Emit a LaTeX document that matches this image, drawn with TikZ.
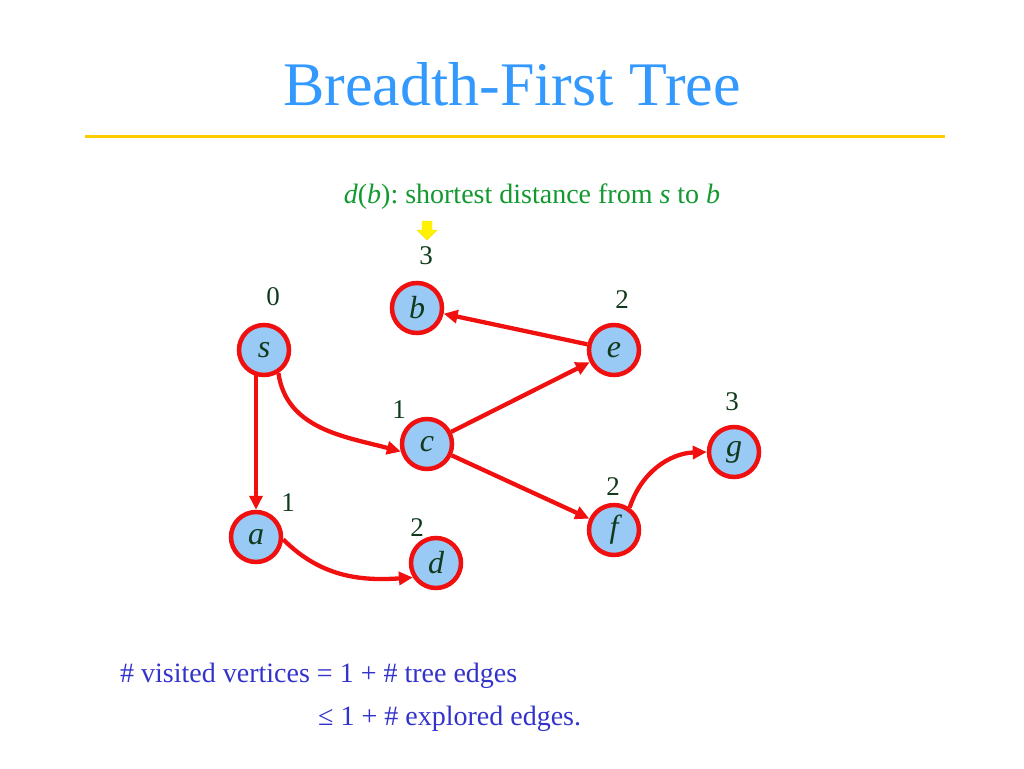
\documentclass[tikz,border=0pt]{standalone}
\usepackage{fontspec}
\setmainfont{Liberation Serif}
\usetikzlibrary{arrows.meta}
\frenchspacing
\definecolor{titleblue}{HTML}{3399FF}
\definecolor{rulegold}{HTML}{FFCC00}
\definecolor{defgreen}{HTML}{12992F}
\definecolor{nodefill}{HTML}{99C9F5}
\definecolor{edgered}{HTML}{F01010}
\definecolor{labdark}{HTML}{113A1C}
\definecolor{notblue}{HTML}{3333CC}
\tikzset{
  vert/.style={circle, draw=edgered, fill=nodefill, line width=4.5pt, minimum size=50pt, inner sep=0pt, font=\fontsize{32}{32}\selectfont\itshape, text=labdark},
  dist/.style={font=\fontsize{27}{27}\selectfont, text=labdark, inner sep=0pt},
  tedge/.style={draw=edgered, line width=4.3pt, -{Triangle[length=14pt,width=13pt]}},
  bigtext/.style={font=\fontsize{28}{28}\selectfont, inner sep=0pt},
}
\begin{document}
\begin{tikzpicture}[x=1pt,y=-1pt]
\useasboundingbox (0,0) rectangle (1024,768);
\node[font=\fontsize{62}{62}\selectfont, text=titleblue, anchor=base] (title) at (512,105) {Breadth-First Tree};
\draw[rulegold, line width=3pt] (85,136) -- (945,136);
\node[bigtext, text=defgreen, anchor=base] (def) at (532,203) {\textit{d}(\textit{b}): shortest distance from \textit{s} to \textit{b}};
\fill[yellow, draw=yellow!80!orange, line width=0.4pt] (422,221) -- (432,221) -- (432,230) -- (437,230) -- (427,240) -- (417,230) -- (422,230) -- cycle;

\node[vert] (s) at (264,350) {s};
\node[vert] (b) at (417,308) {b};
\node[vert] (e) at (614,350) {e};
\node[vert] (c) at (427,444) {c};
\node[vert] (g) at (734,452) {g};
\node[vert] (f) at (614,530) {f};
\node[vert] (a) at (256,537) {a};
\node[vert] (d) at (436,563) {d};

\node[dist] (ls) at (273,297) {0};
\node[dist] (lb) at (426,256) {3};
\node[dist] (le) at (622,300) {2};
\node[dist] (lc) at (399,410) {1};
\node[dist] (lg) at (732,402) {3};
\node[dist] (lf) at (613,487) {2};
\node[dist] (la) at (288,503) {1};
\node[dist] (ld) at (417,528) {2};

\draw[tedge] ([yshift=4pt]a.north |- s.south) -- (a.north);
\draw[tedge] (s.-58) to[out=-82,in=165] (c.196);
\draw[tedge] (c) -- (e);
\draw[tedge] (e) -- (b);
\draw[tedge] (c) -- (f);
\draw[tedge] (f.55) to[out=72,in=182] (g.west);
\draw[tedge] (a.-5) to[out=-45,in=184] (d.212);

\node[bigtext, text=notblue, anchor=base west] (n1) at (120,682) {\# visited vertices = 1 + \# tree edges};
\node[bigtext, text=notblue, anchor=base west] (n2) at (318,725) {≤ 1 + \# explored edges.};
\end{tikzpicture}
\end{document}
